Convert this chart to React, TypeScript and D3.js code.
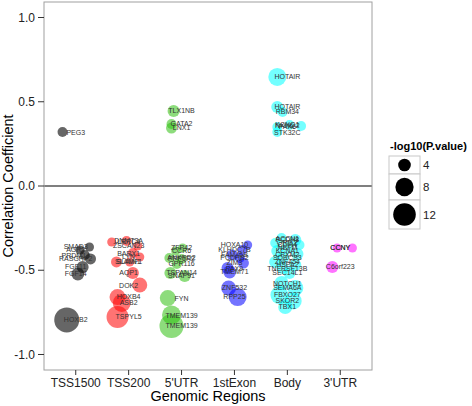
import React from "react";
import * as d3 from "d3";

const regions = ["TSS1500", "TSS200", "5'UTR", "1stExon", "Body", "3'UTR"];
const regionColors = ["#000000", "#ff0000", "#2fc010", "#0000ff", "#00ffff", "#ff00ff"];

const probeGene = [
  // TSS1500
  "PEG3", "SMAD3", "AGR2", "PRDM14", "RASGRP2", "FGF11", "FGF14", "HOXB2",
  // TSS200
  "DNMT3A", "LRRC4", "ZSCAN23", "BARX1", "LYN", "SLAMF1", "SLAIN1", "AQP1", "DOK2", "HOXB4", "ASB2", "TSPYL5",
  // 5'UTR
  "TLX1NB", "GATA2", "LNX1", "ZFP42", "CCR6", "ANKRD2", "PPP1R2", "GPR116", "TSPAN14", "SNAP91", "FYN", "TMEM139", "TMEM139",
  // 1stExon
  "HOXA10", "KLHDC7B", "FAM46B", "PCDHB2", "ZIM3", "PAX9", "TMEM71", "ZNF532", "RPP25",
  // Body
  "HOTAIR", "HOTAIR", "RBM34", "KCNQ1", "NKX6-2", "PAX6", "STK32C",
  "ACCN1", "PCDH8", "GRIK2", "CDH4", "NEFM", "KCNA1", "CPXM2", "SORCS3", "ZNF454", "HSPA2", "TNFRSF13B", "SEC14L1",
  "NOTCH1", "SEMA6A", "FBXO27", "SKOR2", "TBX1",
  // 3'UTR
  "CCNY", "CCNY", "C6orf223",
];

const probeRegion = [
  0, 0, 0, 0, 0, 0, 0, 0,
  1, 1, 1, 1, 1, 1, 1, 1, 1, 1, 1, 1,
  2, 2, 2, 2, 2, 2, 2, 2, 2, 2, 2, 2, 2,
  3, 3, 3, 3, 3, 3, 3, 3, 3,
  4, 4, 4, 4, 4, 4, 4,
  4, 4, 4, 4, 4, 4, 4, 4, 4, 4, 4, 4,
  4, 4, 4, 4, 4,
  5, 5, 5,
];

const probeCorr = [
  0.32, -0.362, -0.38, -0.41, -0.433, -0.481, -0.522, -0.795,
  -0.326, -0.332, -0.356, -0.398, -0.421, -0.451, -0.451, -0.516, -0.588, -0.659, -0.694, -0.777,
  0.445, 0.368, 0.344, -0.368, -0.386, -0.427, -0.433, -0.463, -0.516, -0.534, -0.665, -0.766, -0.831,
  -0.35, -0.38, -0.409, -0.427, -0.457, -0.487, -0.51, -0.605, -0.659,
  0.647, 0.469, 0.439, 0.362, 0.356, 0.35, 0.32,
  -0.309, -0.32, -0.338, -0.35, -0.368, -0.386, -0.404, -0.427, -0.451, -0.469, -0.487, -0.516,
  -0.576, -0.605, -0.647, -0.682, -0.718,
  -0.368, -0.368, -0.481,
];

const probeLogP = [
  2.6, 2.2, 2.2, 2.6, 3.1, 3.7, 4.2, 14.6,
  2.6, 2.2, 2.2, 2.6, 2.2, 3.1, 2.2, 3.7, 5.5, 6.25, 7.8, 11.4,
  3.7, 2.6, 3.1, 2.2, 2.2, 2.6, 2.6, 2.6, 3.7, 3.7, 6.25, 8.6, 13.5,
  2.2, 2.6, 3.1, 2.6, 3.1, 3.7, 4.2, 5.5, 7.8,
  7.8, 3.7, 2.6, 2.6, 2.6, 2.6, 2.6,
  2.6, 3.7, 2.6, 2.6, 3.7, 3.7, 3.7, 3.7, 3.7, 3.7, 3.7, 3.7,
  4.9, 6.25, 7.8, 7.0, 4.9,
  2.2, 2.2, 3.7,
];

const probeJitter = [
  -0.25, 0.26, 0.08, 0.17, 0.28, 0.13, 0.04, -0.17,
  -0.04, -0.32, 0.17, 0.08, 0.21, -0.23, 0.02, 0.08, 0.21, -0.21, -0.13, -0.21,
  -0.15, -0.19, -0.19, 0.02, -0.11, -0.23, 0.0, -0.09, -0.21, 0.06, -0.26, -0.19, -0.19,
  0.25, 0.15, -0.04, 0.1, 0.17, -0.13, -0.09, -0.11, 0.06,
  -0.19, -0.19, -0.09, 0.04, 0.26, -0.19, -0.19,
  -0.11, 0.15, -0.23, 0.23, 0.0, -0.19, 0.19, -0.08, -0.23, 0.15, -0.09, 0.04,
  -0.11, 0.15, -0.15, 0.11, -0.04,
  -0.06, 0.23, -0.15,
];

const yTicks = [-1.0, -0.5, 0.0, 0.5, 1.0];
const legendValues = [4, 8, 12];

const W = 472;
const H = 406;
const panel = { left: 44, right: 372, top: 2, bottom: 370 };
const font = "Liberation Sans, Arial, Helvetica, sans-serif";

export default function App() {
  const x = d3.scalePoint<string>().domain(regions).range([panel.left, panel.right]).padding(0.6);
  const y = d3.scaleLinear().domain([-1.092, 1.092]).range([panel.bottom, panel.top]);
  const rLin = d3.scaleLinear().domain([2, Math.sqrt(12)]).range([6.3, 11.3]);
  const r = (v: number) => rLin(Math.sqrt(v));
  const step = x.step();

  const pts = probeGene.map((g, i) => ({
    gene: g,
    region: probeRegion[i],
    corr: probeCorr[i],
    logp: probeLogP[i],
    jit: probeJitter[i],
  }));

  const legendRows = [
    { top: 156, h: 18 },
    { top: 174, h: 26 },
    { top: 200, h: 29 },
  ];

  return (
    <svg width={W} height={H} style={{ position: "absolute", left: 0, top: 0, background: "#fff" }} fontFamily={font}>
      <rect x={0} y={0} width={W} height={H} fill="#fff" />
      <rect x={panel.left} y={panel.top} width={panel.right - panel.left} height={panel.bottom - panel.top} fill="#fff" />
      <line x1={panel.left} x2={panel.right} y1={y(0)} y2={y(0)} stroke="#000" strokeWidth={1.1} />
      {pts.map((p, i) => (
        <circle
          key={"c" + i}
          cx={(x(regions[p.region]) as number) + p.jit * step}
          cy={y(p.corr)}
          r={r(p.logp)}
          fill={regionColors[p.region]}
          fillOpacity={p.region === 0 ? 0.6 : 0.55}
        />
      ))}
      {pts.map((p, i) => (
        <text
          key={"t" + i}
          x={x(regions[p.region]) as number}
          y={y(p.corr)}
          dy="0.35em"
          textAnchor="middle"
          fontSize={7}
          fill="#333"
        >
          {p.gene}
        </text>
      ))}
      <rect
        x={panel.left}
        y={panel.top}
        width={panel.right - panel.left}
        height={panel.bottom - panel.top}
        fill="none"
        stroke="#a0a0a0"
        strokeWidth={1}
      />
      {yTicks.map((t) => (
        <g key={"y" + t}>
          <line x1={panel.left - 6} x2={panel.left} y1={y(t)} y2={y(t)} stroke="#333" strokeWidth={1} />
          <text x={panel.left - 9} y={y(t)} dy="0.35em" textAnchor="end" fontSize={12} fill="#222">
            {t.toFixed(1)}
          </text>
        </g>
      ))}
      {regions.map((c) => (
        <g key={"x" + c}>
          <line x1={x(c)} x2={x(c)} y1={panel.bottom} y2={panel.bottom + 5} stroke="#333" strokeWidth={1} />
          <text x={x(c)} y={387} textAnchor="middle" fontSize={12} fill="#222">
            {c}
          </text>
        </g>
      ))}
      <text x={(panel.left + panel.right) / 2} y={401} textAnchor="middle" fontSize={14.5} fill="#000">
        Genomic Regions
      </text>
      <text
        transform={`translate(13,${(panel.top + panel.bottom) / 2}) rotate(-90)`}
        textAnchor="middle"
        fontSize={14.5}
        fill="#000"
      >
        Correlation Coefficient
      </text>
      <text x={390} y={150} fontSize={11} fontWeight="bold" fill="#000">
        -log10(P.value)
      </text>
      {legendValues.map((v, i) => {
        const row = legendRows[i];
        return (
          <g key={"l" + v}>
            <rect x={389} y={row.top} width={31} height={row.h} fill="#fff" stroke="#c8c8c8" strokeWidth={1} />
            <circle cx={404.5} cy={row.top + row.h / 2} r={r(v)} fill="#000" />
            <text x={423} y={row.top + row.h / 2} dy="0.35em" fontSize={11.5} fill="#222">
              {v}
            </text>
          </g>
        );
      })}
    </svg>
  );
}
